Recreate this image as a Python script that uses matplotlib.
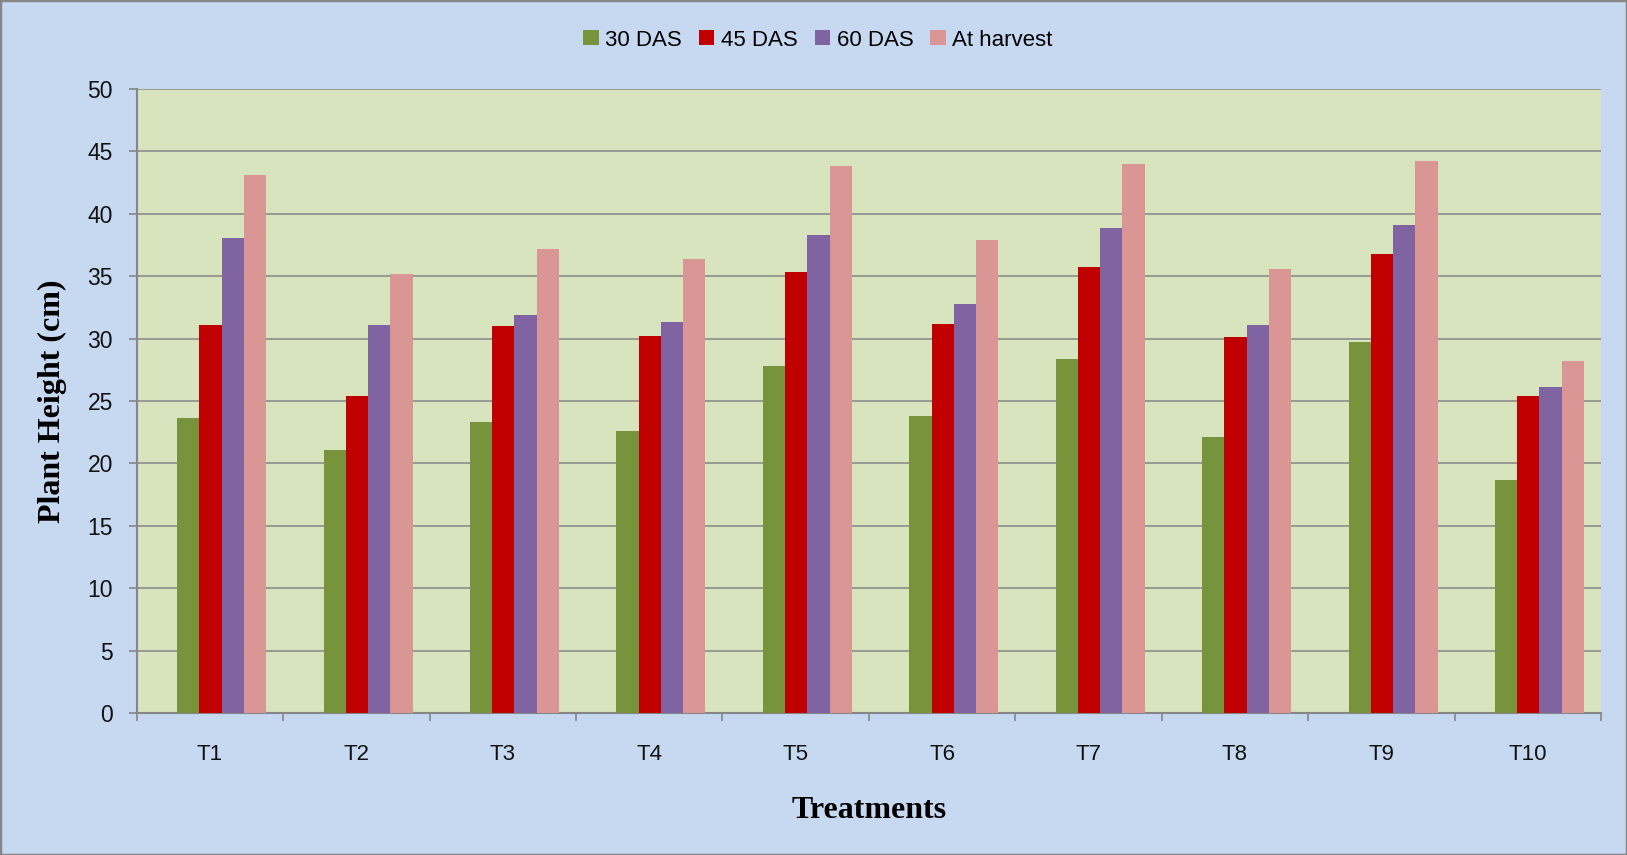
import numpy as np
import matplotlib
matplotlib.use('Agg')
import matplotlib.pyplot as plt
from matplotlib.patches import Rectangle

# Plant height readings per treatment
treatments = ['T1', 'T2', 'T3', 'T4', 'T5', 'T6', 'T7', 'T8', 'T9', 'T10']
das_30 = [23.6, 21.1, 23.3, 22.6, 27.8, 23.8, 28.4, 22.1, 29.7, 18.7]
das_45 = [31.1, 25.4, 31.0, 30.2, 35.3, 31.2, 35.7, 30.1, 36.8, 25.4]
das_60 = [38.1, 31.1, 31.9, 31.3, 38.3, 32.8, 38.9, 31.1, 39.1, 26.1]
at_harvest = [43.1, 35.2, 37.2, 36.4, 43.8, 37.9, 44.0, 35.6, 44.2, 28.2]

series_names = ['30 DAS', '45 DAS', '60 DAS', 'At harvest']
series_values = [das_30, das_45, das_60, at_harvest]
colors = ['#77933C', '#C00000', '#8064A2', '#D99694']

tick_font = ['Liberation Sans', 'DejaVu Sans']
serif_font = ['Liberation Serif', 'DejaVu Serif']

fig = plt.figure(figsize=(16.27, 8.55), dpi=100, facecolor='#C6D9F1')
ax = fig.add_axes([136.7 / 1627, 1 - 713 / 855, (1601 - 136.7) / 1627, (713 - 89) / 855])
ax.set_facecolor('#D7E4BD')

x = np.arange(len(treatments))
width = 0.152
shift = 0.08
for j, (name, vals, c) in enumerate(zip(series_names, series_values, colors)):
    ax.bar(x + shift + (j - 1.5) * width, vals, width=width, color=c, label=name, zorder=3)

ax.set_ylim(0, 50)
ax.set_xlim(-0.5, len(treatments) - 0.5)
ax.set_yticks(np.arange(0, 51, 5))
ax.yaxis.grid(True, color='#868686', linewidth=1.1, zorder=1)
ax.set_axisbelow(True)

ax.set_xticks(x)
ax.set_xticklabels(treatments)
ax.set_xticks(np.arange(-0.5, len(treatments), 1), minor=True)
ax.tick_params(axis='x', which='major', length=0, pad=22)
ax.tick_params(axis='x', which='minor', length=6, width=1.2, color='#868686', direction='out')
ax.tick_params(axis='y', length=6, width=1.2, color='#868686', direction='out', pad=11)

for lab in ax.get_xticklabels():
    lab.set_family(tick_font)
    lab.set_fontsize(16)
    lab.set_color('#111111')
for lab in ax.get_yticklabels():
    lab.set_family(tick_font)
    lab.set_fontsize(16.5)
    lab.set_color('#111111')

for side in ['top', 'right']:
    ax.spines[side].set_visible(False)
for side in ['left', 'bottom']:
    ax.spines[side].set_color('#868686')
    ax.spines[side].set_linewidth(1.5)

ax.set_ylabel('Plant Height (cm)', family=serif_font, fontweight='bold', fontsize=23,
              va='center', ha='center')
ax.yaxis.set_label_coords(-0.0578, 0.5)
ax.set_xlabel('Treatments', family=serif_font, fontweight='bold', fontsize=23,
              va='center', ha='center')
ax.xaxis.set_label_coords(0.5, -0.156)

leg = fig.legend(loc='center', bbox_to_anchor=(818 / 1627, 1 - 40 / 855), ncol=4, frameon=False,
                 prop={'family': tick_font, 'size': 16}, handlelength=0.7, handleheight=0.7,
                 handletextpad=0.3, columnspacing=0.75)

# grey frame around the whole chart
fig.patches.append(Rectangle((0, 0), 1, 1, transform=fig.transFigure, fill=False,
                             edgecolor='#868686', linewidth=2.5))

fig.savefig('out.png', dpi=100, facecolor=fig.get_facecolor())
